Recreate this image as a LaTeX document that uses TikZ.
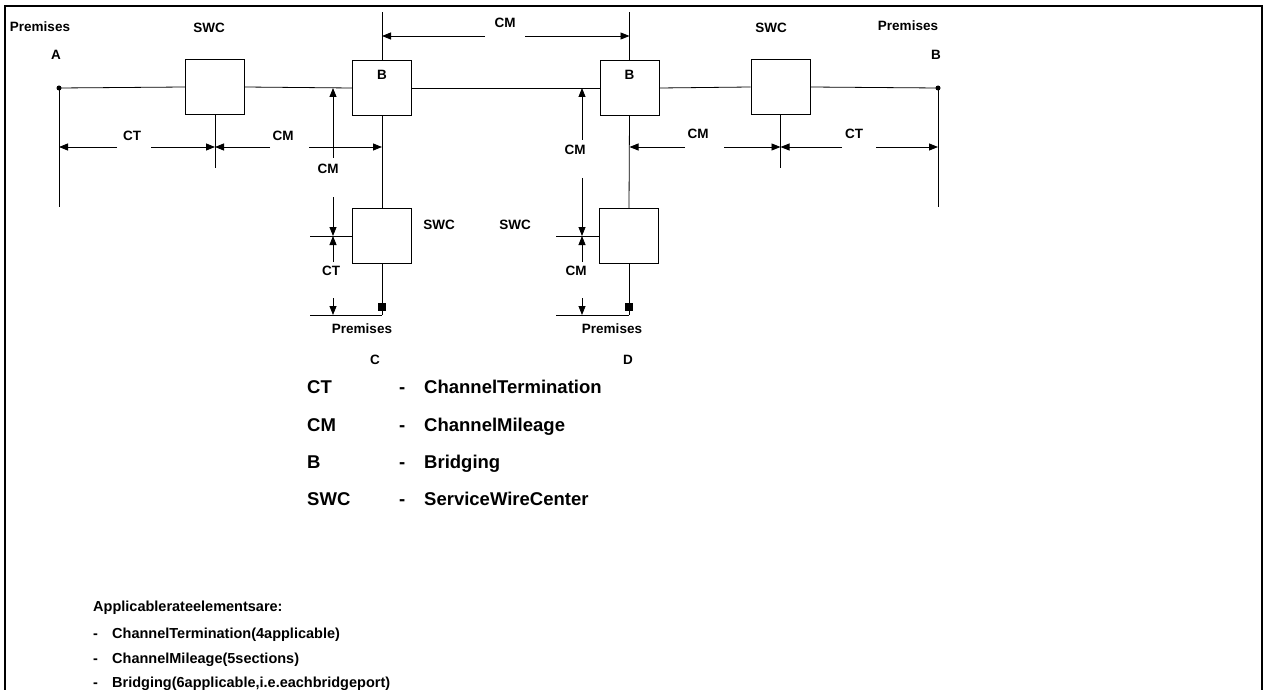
\documentclass[tikz,border=0pt]{standalone}
\usepackage{fontspec}
\setmainfont{Liberation Sans}
\usetikzlibrary{arrows.meta}
\tikzset{
  box/.style={draw,line width=0.8pt,minimum width=59pt,minimum height=55pt,inner sep=0pt},
  wire/.style={line width=0.8pt},
  dim/.style={line width=0.8pt,-{Triangle[length=9pt,width=7pt]}},
  lbl/.style={inner sep=0pt,font=\fontsize{13.5}{16}\selectfont\bfseries},
  leg/.style={inner sep=0pt,anchor=base west,font=\fontsize{18.5}{22}\selectfont\bfseries},
  note/.style={inner sep=0pt,anchor=base west,font=\fontsize{14.5}{17}\selectfont\bfseries},
  dotA/.style={circle,fill,inner sep=0pt,minimum size=5pt},
  sq/.style={rectangle,fill,inner sep=0pt,minimum size=8pt}
}
\begin{document}
\begin{tikzpicture}[x=1pt,y=-1pt]
\useasboundingbox (0,0) rectangle (1264,690);
% frame
\draw[line width=2.5pt] (5,700) -- (5,6) -- (1262,6) -- (1262,700);

% boxes
\node[box] (swcA) at (215,87) {};
\node[box] (bL) at (382,88) {};
\node[box] (bR) at (629.5,88) {};
\node[box] (swcB) at (780.5,87) {};
\node[box] (swcC) at (382,236) {};
\node[box] (swcD) at (629,236) {};

% end points
\node[dotA] (pA) at (59,88) {};
\node[dotA] (pB) at (938,88) {};
\coordinate (pCb) at (382,315);
\coordinate (pDb) at (629,315);
\node[sq] (pC) at (382,307) {};
\node[sq] (pD) at (629,307) {};
\coordinate (topL) at (382,12);
\coordinate (topR) at (629.5,12);
\coordinate (aBot) at (59,207);
\coordinate (bBot) at (938,207);
\coordinate (sAbot) at (215,168);
\coordinate (sBbot) at (780.5,168);

% wires
\draw[wire] (pA.center) -- (swcA.west);
\draw[wire] (swcA.east) -- (bL.west);
\draw[wire] (bL.east) -- (bR.west);
\draw[wire] (bR.east) -- (swcB.west);
\draw[wire] (swcB.east) -- (pB.center);
\draw[wire] (bL.north) -- (topL);
\draw[wire] (bR.north) -- (topR);
\draw[wire] (bL.south) -- (swcC.north);
\draw[wire] (bR.south) -- (swcD.north);
\draw[wire] (swcC.south) -- (pCb);
\draw[wire] (swcD.south) -- (pDb);
\draw[wire] (pA.center) -- (aBot);
\draw[wire] (pB.center) -- (bBot);
\draw[wire] (swcA.south) -- (sAbot);
\draw[wire] (swcB.south) -- (sBbot);

% extension lines lower
\coordinate (eC1) at (310,236);
\coordinate (eC2) at (310,315);
\coordinate (eD1) at (556,236);
\coordinate (eD2) at (556,315);
\draw[wire] (eC1) -- (swcC.west);
\draw[wire] (eC2) -- (pCb);
\draw[wire] (eD1) -- (swcD.west);
\draw[wire] (eD2) -- (pDb);

% top CM dimension
\draw[dim] (485,36) -- (382,36);
\draw[dim] (525,36) -- (629.5,36);
\node[lbl] (cmTop) at (505,23) {CM};

% left row dimensions
\draw[dim] (117,147) -- (59,147);
\draw[dim] (151,147) -- (215,147);
\node[lbl] (ctL) at (132,136) {CT};
\draw[dim] (270,147) -- (215,147);
\draw[dim] (309,147) -- (382,147);
\node[lbl] (cmL) at (283,136) {CM};

% right row dimensions
\draw[dim] (685,147) -- (629.5,147);
\draw[dim] (724,147) -- (780.5,147);
\node[lbl] (cmR) at (698,134) {CM};
\draw[dim] (842,147) -- (780.5,147);
\draw[dim] (876,147) -- (938,147);
\node[lbl] (ctR) at (854,134) {CT};

% left vertical dimensions
\draw[dim] (333,158) -- (333,88);
\node[lbl] (cmV1) at (328,169) {CM};
\draw[dim] (333,197) -- (333,236);
\draw[dim] (333,262) -- (333,236);
\node[lbl] (ctV) at (331,271) {CT};
\draw[dim] (333,298) -- (333,315);

% right vertical dimensions
\draw[dim] (582,140) -- (582,88);
\node[lbl] (cmV2) at (575,150) {CM};
\draw[dim] (582,178) -- (582,236);
\draw[dim] (582,262) -- (582,236);
\node[lbl] (cmV3) at (576,271) {CM};
\draw[dim] (582,298) -- (582,315);

% labels
\node[lbl] at (40,27) {Premises};
\node[lbl] at (56,55) {A};
\node[lbl] at (209,28) {SWC};
\node[lbl] at (771,28) {SWC};
\node[lbl] at (908,26) {Premises};
\node[lbl] at (936,55) {B};
\node[lbl] at (382,75) {B};
\node[lbl] at (629.5,75) {B};
\node[lbl] at (439,225) {SWC};
\node[lbl] at (515,225) {SWC};
\node[lbl] at (362,329) {Premises};
\node[lbl] at (375,360) {C};
\node[lbl] at (612,329) {Premises};
\node[lbl] at (628,360) {D};

% legend
\node[leg] at (307,393) {CT};
\node[leg] at (399,393) {-};
\node[leg] at (424,393) {ChannelTermination};
\node[leg] at (307,431) {CM};
\node[leg] at (399,431) {-};
\node[leg] at (424,431) {ChannelMileage};
\node[leg] at (307,468) {B};
\node[leg] at (399,468) {-};
\node[leg] at (424,468) {Bridging};
\node[leg] at (307,505) {SWC};
\node[leg] at (399,505) {-};
\node[leg] at (424,505) {ServiceWireCenter};

% notes
\node[note] at (93,611) {Applicablerateelementsare:};
\node[note] at (93,638) {-};
\node[note] at (112,638) {ChannelTermination(4applicable)};
\node[note] at (93,663) {-};
\node[note] at (112,663) {ChannelMileage(5sections)};
\node[note] at (93,687) {-};
\node[note] at (112,687) {Bridging(6applicable,i.e.eachbridgeport)};
\end{tikzpicture}
\end{document}
